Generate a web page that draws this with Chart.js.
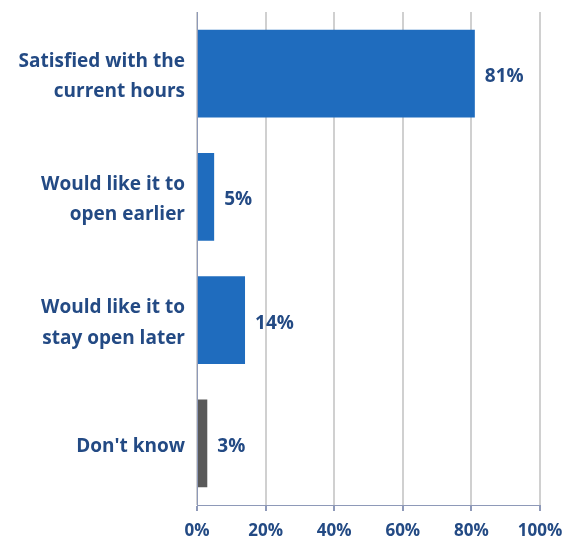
<!DOCTYPE html>
<html><head><meta charset="utf-8">
<script src="https://cdn.jsdelivr.net/npm/chart.js@4"></script>
<style>html,body{margin:0;padding:0;background:#fff}#w{width:566px;height:543px}</style>
</head><body><div id="w"><canvas id="c"></canvas></div>
<script>
const categories = [
  ["Satisfied with the", "current hours"],
  ["Would like it to", "open earlier"],
  ["Would like it to", "stay open later"],
  ["Don't know"]
];
const values = [81, 5, 14, 3];
const barColors = ["#1F6CBE", "#1F6CBE", "#1F6CBE", "#595959"];
const xTicks = [0, 20, 40, 60, 80, 100];

const textColor = "#234A84";
const fontFamily = "'Open Sans', Lato, sans-serif";

const valueLabels = {
  id: "valueLabels",
  afterDatasetsDraw(chart) {
    const ctx = chart.ctx;
    const meta = chart.getDatasetMeta(0);
    ctx.save();
    ctx.font = "bold 19px " + fontFamily;
    ctx.fillStyle = textColor;
    ctx.textAlign = "left";
    ctx.textBaseline = "middle";
    meta.data.forEach((bar, i) => {
      ctx.fillText(values[i] + "%", bar.x + 10, bar.y + 3);
    });
    ctx.restore();
  }
};

new Chart(document.getElementById("c"), {
  type: "bar",
  data: {
    labels: categories,
    datasets: [{
      data: values,
      backgroundColor: barColors,
      borderWidth: 0,
      barPercentage: 0.71,
      categoryPercentage: 1
    }]
  },
  options: {
    indexAxis: "y",
    responsive: true,
    maintainAspectRatio: false,
    animation: false,
    layout: { padding: { top: 12, right: 26, left: 0, bottom: 0 } },
    plugins: { legend: { display: false }, tooltip: { enabled: false } },
    scales: {
      x: {
        min: 0, max: 100,
        afterBuildTicks(axis) { axis.ticks = xTicks.map(v => ({ value: v })); },
        afterFit(axis) { axis.height = 38; axis.paddingLeft = 0; axis.paddingRight = 0; },
        grid: { color: "#D0D0D0", lineWidth: 2, tickColor: "#8E99B8", tickLength: 6, drawTicks: true },
        border: { display: true, color: "#8E99B8", width: 1 },
        ticks: {
          callback: v => v + "%",
          color: textColor,
          font: { family: fontFamily, weight: "bold", size: 17 },
          padding: 10,
          maxRotation: 0
        }
      },
      y: {
        afterFit(axis) { axis.width = 197; axis.paddingTop = 0; axis.paddingBottom = 0; },
        grid: { display: false, drawTicks: false },
        border: { display: true, color: "#8E99B8", width: 1 },
        ticks: {
          color: textColor,
          font: { family: fontFamily, weight: "bold", size: 19, lineHeight: 1.6 },
          padding: 12,
          labelOffset: 3
        }
      }
    }
  },
  plugins: [valueLabels]
});
</script>
</body></html>
